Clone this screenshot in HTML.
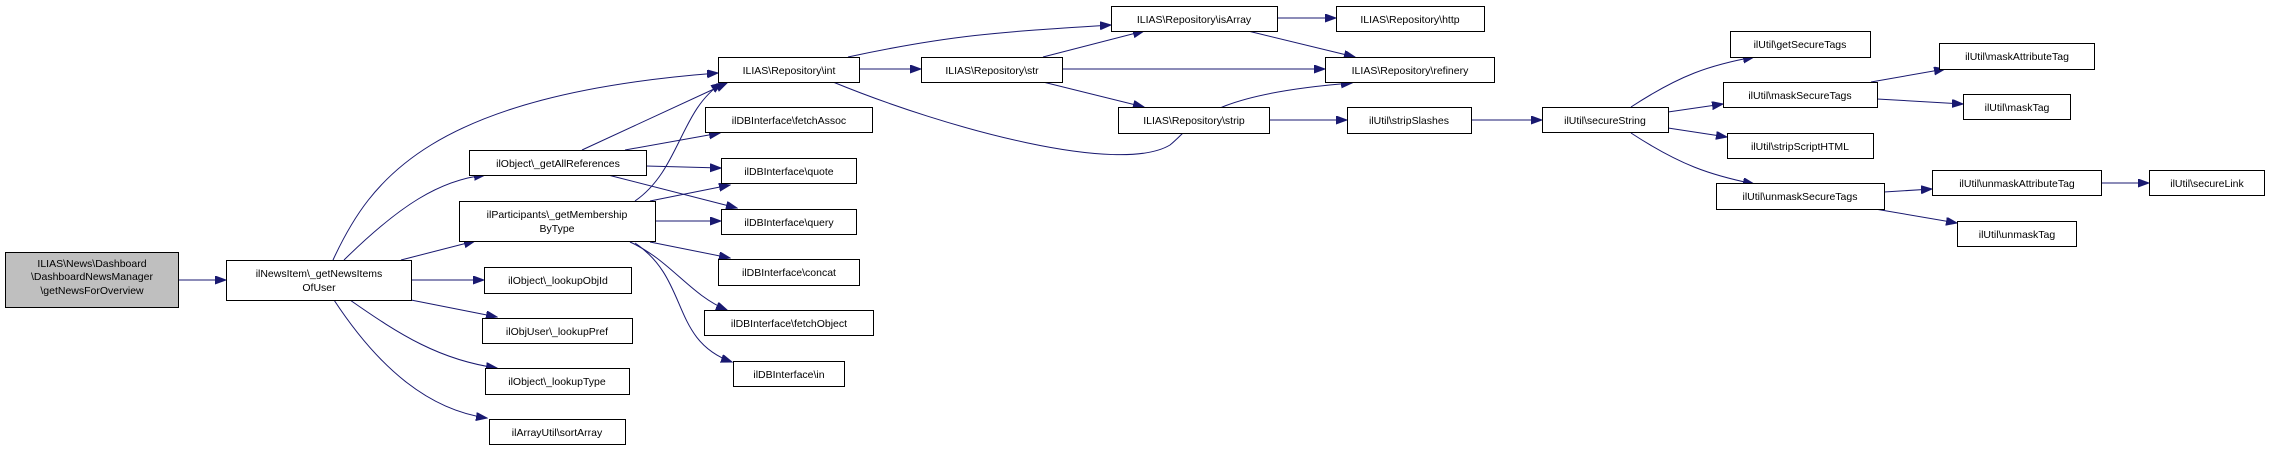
<!DOCTYPE html>
<html><head><meta charset="utf-8"><style>
html,body{margin:0;padding:0;background:#fff}
svg{display:block}
text{font-family:"Liberation Sans",sans-serif;font-size:10.5px;fill:#000}
</style></head><body>
<svg width="2269" height="451" viewBox="0 0 2269 451" xmlns="http://www.w3.org/2000/svg">
<defs>
<marker id="a" markerUnits="userSpaceOnUse" markerWidth="12" markerHeight="10" refX="11" refY="4" orient="auto">
<path d="M0,0 L11,4 L0,8 Z" fill="#191970" stroke="#191970"/>
</marker>
</defs>
<g fill="none" stroke="#191970" stroke-width="1" marker-end="url(#a)">
<path d="M179,280 L226,280"/>
<path d="M333,260 C370,180 430,95 718,73"/>
<path d="M344,260 C400,205 440,180 485,175"/>
<path d="M401,260 L475,241"/>
<path d="M411,280 L484,280"/>
<path d="M411,300 L497,317"/>
<path d="M350,300 C400,335 440,360 497,368"/>
<path d="M334,300 C380,370 430,410 487,418"/>
<path d="M582,150 L727,83"/>
<path d="M625,150 L720,133"/>
<path d="M646,166 L721,168"/>
<path d="M608,175 L737,208"/>
<path d="M635,201 C680,170 680,110 722,83"/>
<path d="M650,201 L730,185"/>
<path d="M655,221 L721,221"/>
<path d="M650,242 L730,258"/>
<path d="M630,242 C670,260 690,295 727,310"/>
<path d="M635,243 C690,280 670,340 732,362"/>
<path d="M859,69 L921,69"/>
<path d="M848,57 C950,35 1000,32 1111,25"/>
<path d="M833,82 C950,130 1120,175 1170,145 C1195,125 1200,95 1352,83"/>
<path d="M1043,57 L1144,31"/>
<path d="M1062,69 L1325,69"/>
<path d="M1043,82 L1144,107"/>
<path d="M1277,18 L1336,18"/>
<path d="M1248,31 L1355,57"/>
<path d="M1269,120 L1347,120"/>
<path d="M1471,120 L1542,120"/>
<path d="M1631,107 C1680,75 1710,65 1754,57"/>
<path d="M1668,112 L1723,104"/>
<path d="M1668,128 L1727,137"/>
<path d="M1631,133 C1680,165 1710,175 1754,184"/>
<path d="M1871,82 L1945,69"/>
<path d="M1877,99 L1963,104"/>
<path d="M1884,192 L1932,189"/>
<path d="M1875,209 L1957,223"/>
<path d="M2101,183 L2149,183"/>
</g>
<g stroke="#000" stroke-width="1" fill="#fff">
<rect x="5.5" y="252.5" width="173" height="55" fill="#bfbfbf"/>
<rect x="226.5" y="260.5" width="185" height="40"/>
<rect x="469.5" y="150.5" width="177" height="25"/>
<rect x="459.5" y="201.5" width="196" height="40"/>
<rect x="484.5" y="267.5" width="147" height="26"/>
<rect x="482.5" y="318.5" width="150" height="25"/>
<rect x="485.5" y="368.5" width="144" height="26"/>
<rect x="489.5" y="419.5" width="136" height="25"/>
<rect x="718.5" y="57.5" width="141" height="25"/>
<rect x="705.5" y="107.5" width="167" height="25"/>
<rect x="721.5" y="158.5" width="135" height="25"/>
<rect x="721.5" y="209.5" width="135" height="25"/>
<rect x="718.5" y="259.5" width="141" height="26"/>
<rect x="704.5" y="310.5" width="169" height="25"/>
<rect x="733.5" y="361.5" width="111" height="25"/>
<rect x="921.5" y="57.5" width="141" height="25"/>
<rect x="1111.5" y="6.5" width="166" height="25"/>
<rect x="1118.5" y="107.5" width="151" height="26"/>
<rect x="1336.5" y="6.5" width="148" height="25"/>
<rect x="1325.5" y="57.5" width="169" height="25"/>
<rect x="1347.5" y="107.5" width="124" height="26"/>
<rect x="1542.5" y="107.5" width="126" height="25"/>
<rect x="1730.5" y="31.5" width="140" height="26"/>
<rect x="1723.5" y="82.5" width="154" height="25"/>
<rect x="1727.5" y="133.5" width="146" height="25"/>
<rect x="1716.5" y="183.5" width="168" height="26"/>
<rect x="1939.5" y="43.5" width="155" height="26"/>
<rect x="1963.5" y="94.5" width="107" height="25"/>
<rect x="1932.5" y="170.5" width="169" height="25"/>
<rect x="2149.5" y="170.5" width="115" height="25"/>
<rect x="1957.5" y="221.5" width="119" height="25"/>
</g>
<g text-anchor="middle">
<text x="92" y="267">ILIAS\News\Dashboard</text>
<text x="92" y="280">\DashboardNewsManager</text>
<text x="92" y="294">\getNewsForOverview</text>
<text x="319" y="277">ilNewsItem\_getNewsItems</text>
<text x="319" y="291">OfUser</text>
<text x="558" y="167">ilObject\_getAllReferences</text>
<text x="557" y="218">ilParticipants\_getMembership</text>
<text x="557" y="232">ByType</text>
<text x="558" y="284">ilObject\_lookupObjId</text>
<text x="557" y="335">ilObjUser\_lookupPref</text>
<text x="557" y="385">ilObject\_lookupType</text>
<text x="557" y="436">ilArrayUtil\sortArray</text>
<text x="789" y="74">ILIAS\Repository\int</text>
<text x="789" y="124">ilDBInterface\fetchAssoc</text>
<text x="789" y="175">ilDBInterface\quote</text>
<text x="789" y="226">ilDBInterface\query</text>
<text x="789" y="276">ilDBInterface\concat</text>
<text x="789" y="327">ilDBInterface\fetchObject</text>
<text x="789" y="378">ilDBInterface\in</text>
<text x="992" y="74">ILIAS\Repository\str</text>
<text x="1194" y="23">ILIAS\Repository\isArray</text>
<text x="1194" y="124">ILIAS\Repository\strip</text>
<text x="1410" y="23">ILIAS\Repository\http</text>
<text x="1410" y="74">ILIAS\Repository\refinery</text>
<text x="1409" y="124">ilUtil\stripSlashes</text>
<text x="1605" y="124">ilUtil\secureString</text>
<text x="1800" y="48">ilUtil\getSecureTags</text>
<text x="1800" y="99">ilUtil\maskSecureTags</text>
<text x="1800" y="150">ilUtil\stripScriptHTML</text>
<text x="1800" y="200">ilUtil\unmaskSecureTags</text>
<text x="2017" y="60">ilUtil\maskAttributeTag</text>
<text x="2017" y="111">ilUtil\maskTag</text>
<text x="2017" y="187">ilUtil\unmaskAttributeTag</text>
<text x="2207" y="187">ilUtil\secureLink</text>
<text x="2017" y="238">ilUtil\unmaskTag</text>
</g>
</svg>
</body></html>
